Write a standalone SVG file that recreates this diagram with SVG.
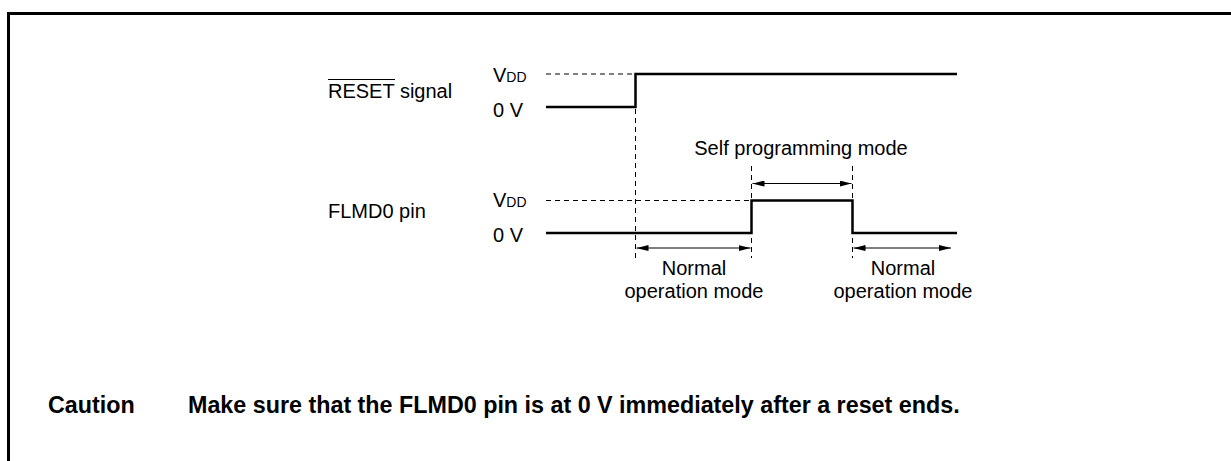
<svg xmlns="http://www.w3.org/2000/svg" width="1231" height="461" viewBox="0 0 1231 461">
<style>
text{font-family:"Liberation Sans",Arial,sans-serif;font-size:20px;fill:#000}
.b{font-weight:bold;font-size:23.3px}
.sig{fill:none;stroke:#000;stroke-width:2.5}
.dash{fill:none;stroke:#000;stroke-width:1;stroke-dasharray:5,4}
.arr{fill:none;stroke:#000;stroke-width:1;marker-start:url(#ah);marker-end:url(#ah)}
.mid{text-anchor:middle}
.sub{font-size:14px}
</style>
<defs>
<marker id="ah" viewBox="0 0 12 6" refX="12" refY="3" markerWidth="12" markerHeight="6" markerUnits="userSpaceOnUse" orient="auto-start-reverse">
<path d="M0,0 L12,3 L0,6 Z" fill="#000"/>
</marker>
</defs>
<rect width="1231" height="461" fill="#fff"/>
<path d="M8.5,461 V13.5 H1231" fill="none" stroke="#000" stroke-width="3"/>
<g id="reset-label">
<text x="328" y="97.5">RESET signal</text>
<line x1="328" y1="79.5" x2="395" y2="79.5" stroke="#000" stroke-width="1"/>
<text x="493" y="82">V<tspan class="sub">DD</tspan></text>
<text x="493" y="117">0 V</text>
</g>
<g id="flmd0-label">
<text x="328" y="218">FLMD0 pin</text>
<text x="493" y="207">V<tspan class="sub">DD</tspan></text>
<text x="493" y="242">0 V</text>
</g>
<g id="connectors">
<path class="sig" d="M546,107 H635.5 V74 H957"/>
<path class="sig" d="M546,233 H751.5 V200.5 H852.5 V233 H957"/>
<line class="dash" x1="546" y1="74" x2="635" y2="74"/>
<line class="dash" x1="546" y1="200.5" x2="751" y2="200.5"/>
<line class="dash" x1="635.5" y1="109" x2="635.5" y2="262"/>
<line class="dash" x1="751.5" y1="166" x2="751.5" y2="258"/>
<line class="dash" x1="852.5" y1="166" x2="852.5" y2="258"/>
<line class="arr" x1="752.5" y1="183.5" x2="851.5" y2="183.5"/>
<line class="arr" x1="636.5" y1="248" x2="750.5" y2="248"/>
<line class="arr" x1="853.5" y1="248" x2="951" y2="248"/>
</g>
<g id="mode-labels">
<text class="mid" x="801" y="155">Self programming mode</text>
<text class="mid" x="694" y="275">Normal</text>
<text class="mid" x="694" y="298">operation mode</text>
<text class="mid" x="903" y="275">Normal</text>
<text class="mid" x="903" y="298">operation mode</text>
</g>
<g id="caution">
<text class="b" x="48" y="413">Caution</text>
<text class="b" x="188" y="413">Make sure that the FLMD0 pin is at 0 V immediately after a reset ends.</text>
</g>
</svg>
